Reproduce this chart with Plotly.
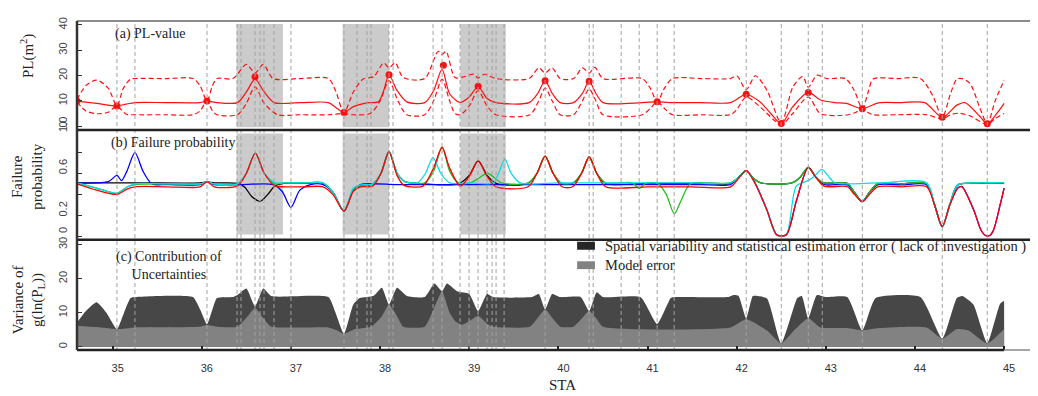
import plotly.graph_objects as go
from plotly.subplots import make_subplots

# ---------------- data ----------------
sta_ticks = [35, 36, 37, 38, 39, 40, 41, 42, 43, 44, 45]
vline_sta = [35.048, 35.250, 36.058, 36.395, 36.440, 36.597, 36.653, 36.698, 36.810, 37.000,
             37.595, 37.741, 37.853, 37.898, 38.100, 38.145, 38.594, 38.695, 38.897, 38.998,
             39.099, 39.200, 39.256, 39.301, 39.391, 39.851, 40.345, 40.390, 40.704, 40.906,
             41.108, 41.299, 42.107, 42.500, 42.803, 42.960, 43.409, 44.306, 44.811]
shade_start = [36.39, 37.58, 38.90]
shade_end = [36.91, 38.10, 39.41]

# (a) PL-value
pl_mean_x = [34.60, 34.82, 35.048, 35.15, 35.25, 35.60, 35.98, 36.058, 36.17, 36.40, 36.50, 36.597, 36.70,
             36.81, 37.10, 37.42, 37.50, 37.595, 37.70, 37.85, 37.98, 38.04, 38.10, 38.19, 38.30, 38.50,
             38.60, 38.695, 38.78, 38.90, 39.00, 39.099, 39.20, 39.30, 39.67, 39.77, 39.851, 39.93, 40.02,
             40.17, 40.27, 40.345, 40.42, 40.50, 40.94, 41.108, 41.25, 41.60, 41.93, 42.107, 42.26, 42.38,
             42.50, 42.63, 42.803, 42.94, 43.10, 43.23, 43.409, 43.57, 43.61, 43.85, 44.11, 44.306, 44.47,
             44.56, 44.73, 44.811, 44.92, 45.0]
pl_mean = [9.9, 9.0, 8.0, 8.7, 9.3, 9.3, 9.3, 9.9, 9.3, 9.3, 13.5, 18.6, 13.5,
           9.3, 9.3, 9.3, 7.5, 5.4, 7.7, 9.2, 9.6, 14.0, 20.3, 14.1, 9.6, 9.3,
           14.0, 22.4, 12.8, 9.3, 11.5, 15.6, 10.9, 9.3, 9.3, 13.0, 17.9, 13.0, 9.3,
           9.3, 13.0, 17.7, 13.0, 9.3, 9.3, 9.6, 9.3, 9.3, 9.3, 12.6, 9.6, 5.1,
           1.0, 7.7, 13.3, 10.3, 9.3, 9.0, 6.9, 9.0, 9.3, 9.3, 9.3, 3.5, 8.3,
           9.3, 3.8, 0.9, 5.1, 9.0]

pl_up_x = [34.60, 34.70, 34.82, 34.95, 35.048, 35.12, 35.20, 35.25, 35.60, 35.90, 35.98, 36.058, 36.12,
           36.17, 36.35, 36.50, 36.597, 36.69, 36.80, 37.10, 37.42, 37.50, 37.595, 37.70, 37.81, 37.93,
           38.04, 38.10, 38.17, 38.26, 38.50, 38.65, 38.695, 38.74, 38.84, 38.95, 39.05, 39.099, 39.17,
           39.30, 39.67, 39.78, 39.851, 39.93, 40.02, 40.17, 40.27, 40.345, 40.41, 40.50, 40.94, 41.03,
           41.108, 41.19, 41.28, 41.60, 41.93, 42.00, 42.107, 42.21, 42.34, 42.50, 42.63, 42.74, 42.803,
           42.90, 43.01, 43.22, 43.32, 43.409, 43.48, 43.53, 43.80, 44.06, 44.20, 44.306, 44.40, 44.47,
           44.53, 44.62, 44.73, 44.811, 44.90, 45.0]
pl_up = [10.5, 16.0, 18.2, 15.0, 8.0, 15.0, 18.6, 18.8, 18.8, 18.8, 16.0, 9.9, 16.0,
         18.8, 18.8, 24.4, 21.0, 24.4, 18.8, 18.8, 18.8, 14.0, 5.4, 13.5, 18.6, 19.6,
         25.0, 23.0, 25.0, 19.2, 18.8, 29.5, 28.3, 29.5, 19.2, 19.6, 20.5, 19.0, 20.5,
         18.8, 18.8, 23.0, 21.0, 23.0, 18.8, 18.8, 23.0, 21.0, 23.2, 18.8, 18.8, 15.0,
         9.6, 15.0, 18.8, 18.8, 18.8, 19.9, 14.4, 19.9, 14.1, 1.3, 15.4, 19.6, 15.4,
         20.1, 18.8, 18.8, 14.0, 6.9, 14.0, 18.6, 18.8, 18.8, 12.0, 3.5, 13.0, 18.6,
         18.8, 16.7, 7.0, 0.9, 10.0, 18.2]

pl_lo_x = [34.60, 34.70, 34.82, 34.95, 35.048, 35.12, 35.16, 35.25, 35.60, 35.90, 35.98, 36.058, 36.12,
           36.17, 36.40, 36.50, 36.597, 36.70, 36.85, 37.10, 37.42, 37.595, 37.70, 37.89, 38.00, 38.10,
           38.20, 38.30, 38.50, 38.60, 38.695, 38.78, 38.84, 38.90, 39.00, 39.099, 39.20, 39.30, 39.68,
           39.78, 39.851, 39.93, 40.02, 40.17, 40.27, 40.345, 40.42, 40.50, 40.94, 41.03, 41.108, 41.19,
           41.28, 41.60, 41.93, 42.00, 42.107, 42.26, 42.50, 42.63, 42.803, 42.94, 43.25, 43.34, 43.409,
           43.47, 43.53, 43.80, 44.13, 44.306, 44.40, 44.50, 44.62, 44.811, 44.90, 45.0]
pl_lo = [9.5, 6.0, 4.9, 5.5, 8.0, 5.5, 4.6, 4.5, 4.5, 4.5, 6.0, 9.9, 6.0,
         4.5, 4.5, 9.0, 15.5, 9.0, 4.5, 4.5, 4.5, 5.0, 4.5, 5.0, 10.0, 18.0,
         10.0, 4.5, 4.5, 10.0, 18.5, 10.0, 5.0, 4.5, 8.0, 14.0, 8.0, 4.5, 4.5,
         10.0, 15.0, 10.0, 4.5, 4.5, 10.0, 14.7, 10.0, 4.5, 4.5, 7.0, 9.6, 7.0,
         4.5, 4.5, 4.5, 6.5, 11.5, 7.7, 0.7, 5.1, 11.5, 4.9, 4.5, 5.5, 6.9,
         5.5, 4.5, 4.5, 4.5, 2.9, 4.5, 5.1, 4.0, 0.7, 3.0, 5.0]

pl_pts_x = [34.60, 35.048, 36.058, 36.597, 37.595, 38.10, 38.71, 39.10, 39.851, 40.345, 41.108,
            42.107, 42.50, 42.803, 43.409, 44.306, 44.811]
pl_pts = [9.9, 8.0, 9.9, 19.5, 5.4, 20.3, 24.1, 15.8, 17.9, 17.7, 9.6,
          12.6, 1.0, 13.3, 6.9, 3.5, 0.9]

# (b) Failure probability
pf_black_x = [34.60, 35.30, 35.98, 36.058, 36.14, 36.40, 36.48, 36.56, 36.653, 36.74, 36.82, 36.92, 37.15,
              37.36, 37.47, 37.595, 37.70, 37.78, 37.92, 38.01, 38.10, 38.19, 38.28, 38.36, 38.88, 39.00,
              39.10, 39.20, 39.30, 39.66, 39.76, 39.851, 39.94, 40.04, 40.16, 40.26, 40.345, 40.43, 40.53,
              41.00, 41.50, 41.93, 42.02, 42.107, 42.19, 42.27, 42.62, 42.71, 42.803, 42.89, 42.98, 43.24,
              43.32, 43.409, 43.49, 43.58, 43.85, 44.13, 44.22, 44.306, 44.39, 44.48, 44.75, 45.00]
pf_black = [0.509, 0.509, 0.509, 0.518, 0.509, 0.505, 0.47, 0.38, 0.334, 0.40, 0.48, 0.505, 0.505,
            0.505, 0.42, 0.241, 0.44, 0.48, 0.50, 0.60, 0.806, 0.60, 0.52, 0.509, 0.50, 0.58,
            0.717, 0.58, 0.505, 0.505, 0.60, 0.763, 0.60, 0.50, 0.505, 0.60, 0.754, 0.60, 0.505,
            0.505, 0.505, 0.505, 0.56, 0.625, 0.55, 0.509, 0.509, 0.56, 0.656, 0.56, 0.509, 0.505,
            0.42, 0.331, 0.42, 0.50, 0.50, 0.50, 0.30, 0.094, 0.30, 0.49, 0.505, 0.505]

pf_blue_x = [34.60, 34.95, 35.048, 35.10, 35.16, 35.25, 35.34, 35.44, 35.60, 35.98, 36.058, 36.14, 36.45,
             36.80, 36.90, 37.00, 37.10, 37.22, 37.36, 37.47, 37.595, 37.70, 37.78, 38.20, 38.70, 39.20,
             39.70, 40.20, 40.70, 41.20, 41.60, 41.93, 42.02, 42.107, 42.21, 42.34, 42.45, 42.555, 42.67,
             42.803, 42.89, 42.98, 43.24, 43.32, 43.409, 43.49, 43.58, 43.85, 44.13, 44.22, 44.306, 44.39,
             44.48, 44.525, 44.66, 44.74, 44.79, 44.84, 44.88, 44.955, 45.00]
pf_blue = [0.509, 0.52, 0.579, 0.53, 0.62, 0.795, 0.62, 0.50, 0.493, 0.493, 0.518, 0.493, 0.493,
           0.493, 0.43, 0.278, 0.44, 0.493, 0.493, 0.42, 0.241, 0.44, 0.493, 0.493, 0.493, 0.493,
           0.493, 0.493, 0.493, 0.493, 0.493, 0.493, 0.56, 0.625, 0.50, 0.25, 0.017, 0.017, 0.34,
           0.656, 0.56, 0.493, 0.49, 0.42, 0.331, 0.42, 0.49, 0.49, 0.49, 0.30, 0.094, 0.30,
           0.46, 0.475, 0.25, 0.063, 0.011, 0.011, 0.06, 0.30, 0.46]

pf_green_x = [34.60, 34.82, 35.048, 35.16, 35.25, 35.60, 35.98, 36.058, 36.14, 36.40, 36.50, 36.60, 36.70,
              36.82, 36.92, 37.15, 37.36, 37.47, 37.595, 37.70, 37.78, 37.92, 38.01, 38.10, 38.19, 38.28,
              38.36, 38.50, 38.60, 38.695, 38.78, 38.88, 39.01, 39.12, 39.20, 39.28, 39.36, 39.66, 39.76,
              39.851, 39.94, 40.04, 40.16, 40.26, 40.345, 40.43, 40.53, 40.83, 40.906, 40.98, 41.12, 41.21,
              41.30, 41.37, 41.48, 41.70, 41.93, 42.02, 42.107, 42.19, 42.27, 42.62, 42.71, 42.803, 42.89,
              42.98, 43.24, 43.32, 43.409, 43.49, 43.58, 43.85, 44.13, 44.22, 44.306, 44.39, 44.48, 44.75,
              45.00]
pf_green = [0.509, 0.46, 0.41, 0.47, 0.493, 0.50, 0.50, 0.518, 0.50, 0.50, 0.60, 0.79, 0.60,
            0.50, 0.509, 0.509, 0.509, 0.42, 0.241, 0.44, 0.478, 0.50, 0.60, 0.80, 0.60, 0.52,
            0.509, 0.509, 0.62, 0.846, 0.62, 0.509, 0.509, 0.56, 0.601, 0.56, 0.509, 0.509, 0.60,
            0.76, 0.60, 0.505, 0.509, 0.60, 0.754, 0.60, 0.509, 0.509, 0.456, 0.505, 0.50, 0.40,
            0.217, 0.33, 0.50, 0.509, 0.509, 0.56, 0.625, 0.55, 0.509, 0.509, 0.56, 0.656, 0.56,
            0.509, 0.505, 0.42, 0.331, 0.42, 0.50, 0.50, 0.50, 0.30, 0.094, 0.30, 0.49, 0.509,
            0.509]

pf_cyan_x = [34.60, 34.82, 35.048, 35.16, 35.25, 35.60, 35.98, 36.058, 36.14, 36.40, 36.50, 36.60, 36.70,
             36.82, 36.92, 37.15, 37.36, 37.47, 37.595, 37.70, 37.78, 37.92, 38.01, 38.10, 38.19, 38.28,
             38.36, 38.42, 38.51, 38.594, 38.68, 38.78, 39.00, 39.27, 39.33, 39.40, 39.47, 39.57, 40.00,
             40.50, 41.00, 41.50, 41.93, 42.02, 42.107, 42.21, 42.34, 42.45, 42.555, 42.67, 42.80, 42.87,
             42.955, 43.04, 43.10, 43.60, 44.13, 44.22, 44.306, 44.39, 44.48, 44.75, 45.00]
pf_cyan = [0.509, 0.46, 0.41, 0.47, 0.50, 0.50, 0.50, 0.518, 0.50, 0.50, 0.60, 0.79, 0.60,
           0.51, 0.509, 0.509, 0.509, 0.42, 0.241, 0.46, 0.49, 0.50, 0.60, 0.80, 0.60, 0.52,
           0.509, 0.509, 0.60, 0.748, 0.60, 0.509, 0.509, 0.509, 0.60, 0.733, 0.60, 0.509, 0.509,
           0.509, 0.509, 0.509, 0.509, 0.56, 0.625, 0.50, 0.25, 0.017, 0.017, 0.48, 0.53, 0.57,
           0.637, 0.56, 0.509, 0.509, 0.509, 0.30, 0.094, 0.30, 0.49, 0.509, 0.509]

pf_red_x = [34.60, 34.82, 35.048, 35.16, 35.25, 35.60, 35.98, 36.058, 36.14, 36.40, 36.50, 36.60, 36.70,
            36.82, 36.92, 37.15, 37.36, 37.47, 37.595, 37.70, 37.78, 37.92, 38.01, 38.10, 38.19, 38.26,
            38.34, 38.48, 38.60, 38.695, 38.78, 38.90, 39.00, 39.10, 39.20, 39.30, 39.66, 39.76, 39.851,
            39.94, 40.04, 40.16, 40.26, 40.345, 40.43, 40.53, 41.00, 41.50, 41.93, 42.02, 42.107, 42.21,
            42.34, 42.45, 42.555, 42.67, 42.803, 42.89, 42.98, 43.24, 43.32, 43.409, 43.49, 43.58, 43.85,
            44.13, 44.22, 44.306, 44.39, 44.48, 44.525, 44.66, 44.74, 44.79, 44.84, 44.88, 44.955, 45.00]
pf_red = [0.50, 0.44, 0.40, 0.45, 0.472, 0.472, 0.472, 0.518, 0.472, 0.48, 0.60, 0.791, 0.60,
          0.48, 0.472, 0.472, 0.472, 0.40, 0.241, 0.43, 0.47, 0.48, 0.60, 0.80, 0.58, 0.49,
          0.472, 0.478, 0.65, 0.846, 0.65, 0.478, 0.57, 0.717, 0.57, 0.472, 0.472, 0.60, 0.763,
          0.60, 0.472, 0.472, 0.60, 0.754, 0.60, 0.472, 0.472, 0.472, 0.472, 0.55, 0.625, 0.50,
          0.25, 0.017, 0.017, 0.34, 0.656, 0.56, 0.478, 0.472, 0.40, 0.331, 0.40, 0.472, 0.472,
          0.472, 0.30, 0.094, 0.30, 0.46, 0.472, 0.25, 0.063, 0.011, 0.011, 0.06, 0.30, 0.46]

# (c) Contribution of uncertainties
var_total_x = [34.60, 34.70, 34.82, 34.93, 35.048, 35.12, 35.20, 35.25, 35.90, 35.98, 36.058, 36.12, 36.17,
               36.35, 36.40, 36.50, 36.597, 36.69, 36.78, 37.42, 37.50, 37.595, 37.70, 37.77, 37.93, 38.02,
               38.10, 38.19, 38.30, 38.50, 38.61, 38.695, 38.75, 38.87, 39.00, 39.099, 39.20, 39.27, 39.70,
               39.78, 39.851, 39.93, 40.02, 40.25, 40.345, 40.43, 40.50, 40.92, 41.108, 41.26, 41.30, 41.90,
               41.97, 42.02, 42.107, 42.18, 42.22, 42.34, 42.50, 42.68, 42.73, 42.803, 42.90, 43.00, 43.24,
               43.409, 43.56, 44.06, 44.306, 44.47, 44.53, 44.655, 44.811, 44.955, 45.0]
var_total = [7.1, 10.5, 13.1, 10.0, 5.2, 9.5, 14.3, 14.6, 14.6, 11.0, 6.6, 11.0, 14.3,
             14.6, 15.2, 17.1, 11.9, 17.1, 14.9, 14.6, 10.0, 3.8, 12.4, 14.3, 15.0, 17.3,
             12.4, 17.3, 14.9, 14.6, 18.6, 16.3, 18.6, 16.2, 15.5, 10.5, 15.5, 14.6, 14.6,
             15.5, 11.0, 15.5, 14.6, 14.6, 10.5, 16.0, 14.6, 14.6, 6.7, 14.3, 14.6, 14.6,
             15.2, 15.0, 8.4, 14.9, 15.0, 14.2, 1.0, 14.3, 14.9, 8.4, 15.2, 14.6, 14.6,
             4.8, 14.3, 14.6, 2.4, 14.3, 14.9, 12.4, 1.0, 12.6, 13.5]

var_model_x = [34.60, 34.82, 35.048, 35.25, 35.98, 36.058, 36.17, 36.40, 36.50, 36.597, 36.70, 36.78, 37.42,
               37.50, 37.595, 37.72, 37.90, 38.02, 38.10, 38.19, 38.26, 38.50, 38.60, 38.695, 38.78, 38.84,
               38.92, 39.00, 39.099, 39.20, 39.27, 39.68, 39.77, 39.851, 39.93, 40.02, 40.17, 40.27, 40.345,
               40.42, 40.50, 41.93, 42.107, 42.34, 42.50, 42.65, 42.803, 42.94, 43.24, 43.409, 43.60, 44.13,
               44.306, 44.47, 44.60, 44.811, 45.0]
var_model = [6.2, 5.8, 5.2, 5.7, 5.9, 6.4, 5.9, 5.9, 8.5, 11.4, 8.0, 5.9, 5.7,
             5.0, 3.8, 5.2, 5.9, 9.0, 12.4, 9.0, 5.9, 5.9, 11.0, 16.2, 10.0, 7.6,
             6.5, 7.5, 9.1, 6.8, 5.9, 5.9, 8.5, 11.0, 8.5, 5.9, 5.9, 8.5, 10.6,
             8.5, 5.9, 5.7, 8.1, 4.8, 1.0, 5.0, 8.4, 5.7, 5.5, 4.8, 5.5, 5.7,
             2.4, 5.2, 4.8, 1.0, 5.2]

legend_labels = ["Spatial variability and statistical estimation error ( lack of investigation )",
                 "Model error"]

# ---------------- figure ----------------
SERIF = "Liberation Serif"
SANS = "Liberation Sans"

fig = make_subplots(rows=3, cols=1, shared_xaxes=True, vertical_spacing=0)

red = "#ff1010"
fig.add_trace(go.Scatter(x=pl_up_x, y=pl_up, mode="lines", line=dict(color=red, width=1.2, dash="5px,3px",
                         shape="spline", smoothing=0.8), hoverinfo="skip"), row=1, col=1)
fig.add_trace(go.Scatter(x=pl_lo_x, y=pl_lo, mode="lines", line=dict(color=red, width=1.2, dash="5px,3px",
                         shape="spline", smoothing=0.8), hoverinfo="skip"), row=1, col=1)
fig.add_trace(go.Scatter(x=pl_mean_x, y=pl_mean, mode="lines", line=dict(color=red, width=1.2,
                         shape="spline", smoothing=0.8)), row=1, col=1)
fig.add_trace(go.Scatter(x=pl_pts_x, y=pl_pts, mode="markers", marker=dict(color=red, size=7)), row=1, col=1)

for xs, ys, col in [(pf_black_x, pf_black, "#000000"), (pf_blue_x, pf_blue, "#0000ff"),
                    (pf_green_x, pf_green, "#1fc01f"), (pf_cyan_x, pf_cyan, "#00e0e8"),
                    (pf_red_x, pf_red, "#ff0000")]:
    fig.add_trace(go.Scatter(x=xs, y=ys, mode="lines", line=dict(color=col, width=1.3, shape="spline",
                             smoothing=0.8)), row=2, col=1)

fig.add_trace(go.Scatter(x=var_total_x, y=var_total, mode="lines", fill="tozeroy", fillcolor="#474747",
                         line=dict(width=0, color="#474747", shape="spline", smoothing=0.5)), row=3, col=1)
fig.add_trace(go.Scatter(x=var_model_x, y=var_model, mode="lines", fill="tozeroy", fillcolor="#828282",
                         line=dict(width=0, color="#828282", shape="spline", smoothing=0.5)), row=3, col=1)

shapes = []
for s0, s1 in zip(shade_start, shade_end):
    shapes.append(dict(type="rect", xref="x", yref="y", x0=s0, x1=s1, y0=-0.4, y1=40.4,
                       fillcolor="#cbcbcb", line=dict(width=0), layer="below"))
    shapes.append(dict(type="rect", xref="x", yref="y2", x0=s0, x1=s1, y0=0.02, y1=0.975,
                       fillcolor="#cbcbcb", line=dict(width=0), layer="below"))
for v in vline_sta:
    shapes.append(dict(type="line", xref="x", yref="paper", x0=v, x1=v, y0=0, y1=0.995,
                       line=dict(color="#a2a2a2", width=1, dash="4px,3px"), layer="above"))
# frame lines
shapes.append(dict(type="line", xref="paper", yref="paper", x0=0, x1=1, y0=1, y1=1,
                   line=dict(color="#666666", width=1.5)))
for yy in [0.6686, 0.3352]:
    shapes.append(dict(type="line", xref="paper", yref="paper", x0=0, x1=1, y0=yy, y1=yy,
                       line=dict(color="#222222", width=2.5)))
shapes.append(dict(type="line", xref="x", yref="paper", x0=34.6, x1=45.0, y0=0, y1=0,
                   line=dict(color="#222222", width=2.5)))
shapes.append(dict(type="line", xref="x", yref="paper", x0=45.0, x1=45.4, y0=0, y1=0,
                   line=dict(color="#888888", width=1.5)))
shapes.append(dict(type="line", xref="paper", yref="paper", x0=0, x1=0, y0=0, y1=1,
                   line=dict(color="#333333", width=2.5)))
# legend boxes
shapes.append(dict(type="rect", xref="x", yref="y3", x0=40.21, x1=40.41, y0=28.5, y1=30.8,
                   fillcolor="#262626", line=dict(width=0)))
shapes.append(dict(type="rect", xref="x", yref="y3", x0=40.21, x1=40.41, y0=22.8, y1=25.1,
                   fillcolor="#828282", line=dict(width=0)))

ann = [
    dict(text="(a) PL-value", xref="x", yref="y", x=35.0, y=36.5, xanchor="left", yanchor="middle",
         showarrow=False, font=dict(family=SERIF, size=14, color="#222")),
    dict(text="(b) Failure probability", xref="x", yref="y2", x=34.96, y=0.89, xanchor="left",
         yanchor="middle", showarrow=False, font=dict(family=SERIF, size=14, color="#222")),
    dict(text="(c) Contribution of<br>Uncertainties", xref="x", yref="y3", x=35.637, y=23.8,
         xanchor="center", yanchor="middle", align="center", showarrow=False,
         font=dict(family=SERIF, size=14, color="#222")),
    dict(text=legend_labels[0], xref="x", yref="y3", x=40.50, y=29.4, xanchor="left", yanchor="middle",
         showarrow=False, font=dict(family=SERIF, size=14.5, color="#222")),
    dict(text=legend_labels[1], xref="x", yref="y3", x=40.50, y=23.9, xanchor="left", yanchor="middle",
         showarrow=False, font=dict(family=SERIF, size=14.5, color="#222")),
    dict(text="PL(m<sup>2</sup>)", xref="paper", yref="paper", x=-0.052, y=0.8935, textangle=-90,
         xanchor="center", yanchor="middle", showarrow=False, font=dict(family=SERIF, size=15, color="#222")),
    dict(text="Failure<br>probability", xref="paper", yref="paper", x=-0.052, y=0.527, textangle=-90,
         xanchor="center", yanchor="middle", showarrow=False, font=dict(family=SERIF, size=15, color="#222")),
    dict(text="Variance of<br>g(ln(P<sub>L</sub>))", xref="paper", yref="paper", x=-0.050, y=0.154,
         textangle=-90, xanchor="center", yanchor="middle", showarrow=False,
         font=dict(family=SERIF, size=15, color="#222")),
    dict(text="STA", xref="paper", yref="paper", x=0.5047, y=-0.1065, xanchor="center", yanchor="middle",
         showarrow=False, font=dict(family=SERIF, size=15, color="#222")),
]

# the page body has an 8px margin, so the figure is sized to fit the 1038x396 window
fig.update_layout(
    width=1030, height=388, margin=dict(l=69, r=0, t=4, b=46),
    plot_bgcolor="white", paper_bgcolor="white", showlegend=False,
    shapes=shapes, annotations=ann,
)
xcommon = dict(range=[34.6, 45.38], showgrid=False, zeroline=False, showline=False)
fig.update_xaxes(**xcommon)
fig.update_xaxes(showticklabels=False, ticks="", row=1, col=1)
fig.update_xaxes(showticklabels=False, ticks="", row=2, col=1)
fig.update_xaxes(tickvals=sta_ticks, ticks="inside", ticklen=4, tickwidth=1.5, tickcolor="#222",
                 tickfont=dict(family=SANS, size=11, color="#333"), ticklabelstandoff=10,
                 ticklabelshift=5, row=3, col=1)

ycommon = dict(showgrid=False, zeroline=False, showline=False, ticks="inside", ticklen=5,
               tickwidth=1.2, tickcolor="#333", tickangle=-90,
               tickfont=dict(family=SANS, size=11, color="#444"), ticklabelstandoff=7)
fig.update_yaxes(**ycommon)
fig.update_yaxes(domain=[0.6686, 1.0], range=[-1.54, 41.54], tickvals=[0, 10, 20, 30, 40],
                 ticktext=["0", "10", "20", "30", "40"], row=1, col=1)
fig.update_yaxes(domain=[0.3352, 0.6686], range=[-0.029, 1.009], tickvals=[0, 0.2, 0.6, 1.0],
                 ticktext=["0", "0.2", "0.6", "1.0"], ticklabelshift=-5,
                 minor=dict(tickvals=[0.4, 0.8], ticks="inside", ticklen=5, tickwidth=1.2, tickcolor="#333"),
                 row=2, col=1)
fig.update_yaxes(domain=[0.0, 0.3352], range=[-0.94, 31.43], tickvals=[0, 10, 20, 30],
                 ticktext=["0", "10", "20", "30"], row=3, col=1)

fig.write_html("out.html")
